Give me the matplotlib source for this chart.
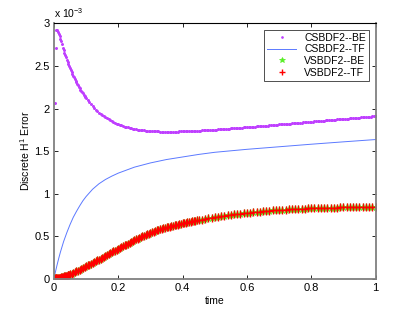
import numpy as np
import matplotlib
matplotlib.use('Agg')
import matplotlib.pyplot as plt

plt.rcParams['font.family'] = ['Liberation Sans', 'DejaVu Sans']
plt.rcParams['mathtext.fontset'] = 'custom'
plt.rcParams['mathtext.rm'] = 'Liberation Sans'
plt.rcParams['mathtext.it'] = 'Liberation Sans'

# CSBDF2--BE (constant step), error in units of 1e-3
cs_t = np.concatenate([np.linspace(0.0025, 0.1, 40), np.linspace(0.105, 1.0, 180)])
cs_be = [
    2.06, 2.71, 2.92, 2.92, 2.90, 2.88, 2.85, 2.82, 2.79, 2.755,
    2.716, 2.686, 2.658, 2.629, 2.602, 2.575, 2.550, 2.525, 2.500, 2.477,
    2.454, 2.431, 2.409, 2.388, 2.368, 2.348, 2.328, 2.309, 2.291, 2.273,
    2.256, 2.239, 2.223, 2.207, 2.191, 2.177, 2.162, 2.148, 2.134, 2.121,
    2.095, 2.071, 2.049, 2.027, 2.007, 1.988, 1.970, 1.953, 1.937, 1.923,
    1.908, 1.895, 1.883, 1.871, 1.860, 1.850, 1.840, 1.831, 1.823, 1.815,
    1.808, 1.801, 1.794, 1.788, 1.783, 1.778, 1.773, 1.768, 1.764, 1.760,
    1.756, 1.753, 1.750, 1.747, 1.745, 1.743, 1.740, 1.739, 1.737, 1.735,
    1.734, 1.733, 1.732, 1.731, 1.730, 1.729, 1.729, 1.728, 1.728, 1.728,
    1.728, 1.728, 1.728, 1.728, 1.728, 1.729, 1.729, 1.730, 1.730, 1.731,
    1.731, 1.732, 1.733, 1.734, 1.734, 1.735, 1.736, 1.737, 1.738, 1.739,
    1.740, 1.742, 1.743, 1.744, 1.745, 1.746, 1.747, 1.749, 1.750, 1.751,
    1.753, 1.754, 1.755, 1.757, 1.758, 1.759, 1.761, 1.762, 1.764, 1.765,
    1.767, 1.768, 1.770, 1.771, 1.772, 1.774, 1.775, 1.777, 1.779, 1.780,
    1.782, 1.783, 1.785, 1.786, 1.788, 1.789, 1.791, 1.792, 1.794, 1.796,
    1.797, 1.799, 1.800, 1.802, 1.804, 1.805, 1.807, 1.808, 1.810, 1.812,
    1.813, 1.815, 1.817, 1.818, 1.820, 1.821, 1.823, 1.825, 1.826, 1.828,
    1.829, 1.831, 1.833, 1.834, 1.836, 1.838, 1.839, 1.841, 1.843, 1.844,
    1.846, 1.848, 1.849, 1.851, 1.852, 1.854, 1.856, 1.857, 1.859, 1.861,
    1.862, 1.864, 1.866, 1.867, 1.869, 1.871, 1.872, 1.874, 1.875, 1.877,
    1.879, 1.880, 1.882, 1.884, 1.885, 1.887, 1.889, 1.890, 1.892, 1.894,
    1.895, 1.897, 1.898, 1.900, 1.902, 1.903, 1.905, 1.907, 1.908, 1.910,
]

# CSBDF2--TF
tf_t = [0, 0.005, 0.01, 0.015, 0.02, 0.03, 0.04, 0.05, 0.06, 0.07, 0.08, 0.09,
        0.10, 0.12, 0.14, 0.16, 0.18, 0.20, 0.25, 0.30, 0.35, 0.40, 0.45, 0.50,
        0.60, 0.70, 0.80, 0.90, 1.00]
cs_tf = [0, 0.085, 0.165, 0.24, 0.31, 0.435, 0.54, 0.635, 0.72, 0.79, 0.855, 0.915,
         0.965, 1.05, 1.115, 1.165, 1.205, 1.24, 1.31, 1.36, 1.40, 1.43, 1.46, 1.485,
         1.52, 1.55, 1.58, 1.608, 1.635]

# VSBDF2 (variable step), BE and TF nearly coincide
vs_t = np.concatenate([np.linspace(0, 0.05, 21), np.linspace(0.055, 0.45, 80),
                       np.linspace(0.46, 1.0, 55)])
vs_err = [
    0.000, 0.001, 0.002, 0.003, 0.004, 0.006, 0.008, 0.010, 0.012, 0.014,
    0.017, 0.019, 0.022, 0.025, 0.028, 0.031, 0.035, 0.038, 0.042, 0.046, 0.050,
    0.058, 0.0665, 0.0753, 0.0843, 0.0936, 0.1032, 0.1131, 0.1232, 0.1335, 0.144,
    0.154, 0.164, 0.174, 0.184, 0.194, 0.204, 0.214, 0.224, 0.2345, 0.245,
    0.2555, 0.266, 0.2765, 0.287, 0.2975, 0.308, 0.3185, 0.329, 0.3395, 0.350,
    0.360, 0.370, 0.380, 0.390, 0.400, 0.410, 0.420, 0.430, 0.440, 0.450,
    0.4597, 0.4692, 0.4785, 0.4876, 0.4965, 0.5052, 0.5136, 0.5218, 0.5297, 0.5373,
    0.5448, 0.5521, 0.5591, 0.5659, 0.5724, 0.5787, 0.5847, 0.5905, 0.5961, 0.6015,
    0.6067, 0.6118, 0.6167, 0.6215, 0.6262, 0.6308, 0.6353, 0.6397, 0.6440, 0.6482,
    0.6523, 0.6564, 0.6604, 0.6644, 0.6683, 0.6722, 0.6760, 0.6798, 0.6835, 0.6872,
    0.6943, 0.7012, 0.7079, 0.7144, 0.7207,
    0.7268, 0.7327, 0.7384, 0.7439, 0.7492, 0.7543, 0.7592, 0.7639, 0.7684, 0.7727,
    0.7768, 0.7807, 0.7845, 0.7882, 0.7918, 0.7952, 0.7985, 0.8016, 0.8046, 0.8075,
    0.8099, 0.8122, 0.8143, 0.8163, 0.8182, 0.8200, 0.8217, 0.8233, 0.8248, 0.8260,
    0.8274, 0.8287, 0.8300, 0.8312, 0.8324, 0.8335, 0.8346, 0.8357, 0.8368, 0.8378,
    0.8388, 0.8398, 0.8407, 0.8416, 0.8425, 0.8434, 0.8443, 0.8452, 0.8461, 0.8470,
]

labels = ['CSBDF2--BE', 'CSBDF2--TF', 'VSBDF2--BE', 'VSBDF2--TF']
x_ticks = [0, 0.2, 0.4, 0.6, 0.8, 1]
x_ticklabels = ['0', '0.2', '0.4', '0.6', '0.8', '1']
y_ticks = [0, 0.5, 1, 1.5, 2, 2.5, 3]
y_ticklabels = ['0', '0.5', '1', '1.5', '2', '2.5', '3']

fig = plt.figure(figsize=(4.15, 3.13), dpi=100)
ax = fig.add_axes([0.13, 0.11, 0.775, 0.815])

ax.plot(cs_t, cs_be, linestyle='none', marker='.', markersize=2.3,
        color='#bf3fff', label=labels[0])
ax.plot(tf_t, cs_tf, '-', color='#5b79ff', linewidth=0.7, label=labels[1])
ax.plot(vs_t, vs_err, linestyle='none', marker='*', markersize=5.5,
        markeredgewidth=0.5, color='#55ee22', label=labels[2])
ax.plot(vs_t, vs_err, linestyle='none', marker='+', markersize=6,
        markeredgewidth=1.0, color='#ff0000', label=labels[3])

ax.set_xlim(0, 1)
ax.set_ylim(0, 3)
ax.set_xticks(x_ticks)
ax.set_xticklabels(x_ticklabels)
ax.set_yticks(y_ticks)
ax.set_yticklabels(y_ticklabels)
ax.tick_params(direction='in', length=3, width=0.6, labelsize=8,
               top=True, right=True, pad=3)

for side in ['left', 'bottom', 'right']:
    ax.spines[side].set_color('#808080')
    ax.spines[side].set_linewidth(1.3)
ax.spines['top'].set_color('black')
ax.spines['top'].set_linewidth(0.8)

ax.set_xlabel('time', fontsize=7.5, labelpad=2)
ax.set_ylabel('Discrete H$^1$ Error', fontsize=7.5, labelpad=2)
ax.text(0.0, 1.012, 'x 10$^{-3}$', transform=ax.transAxes, fontsize=7.5,
        ha='left', va='bottom')

leg = ax.legend(loc='upper right', fontsize=7.5, frameon=True, fancybox=False,
                borderpad=0.3, handlelength=2.8, handletextpad=0.8,
                labelspacing=0.15, borderaxespad=0.6, markerscale=0.8)
leg.get_frame().set_edgecolor('black')
leg.get_frame().set_linewidth(0.6)

fig.savefig('out.png', dpi=100)
